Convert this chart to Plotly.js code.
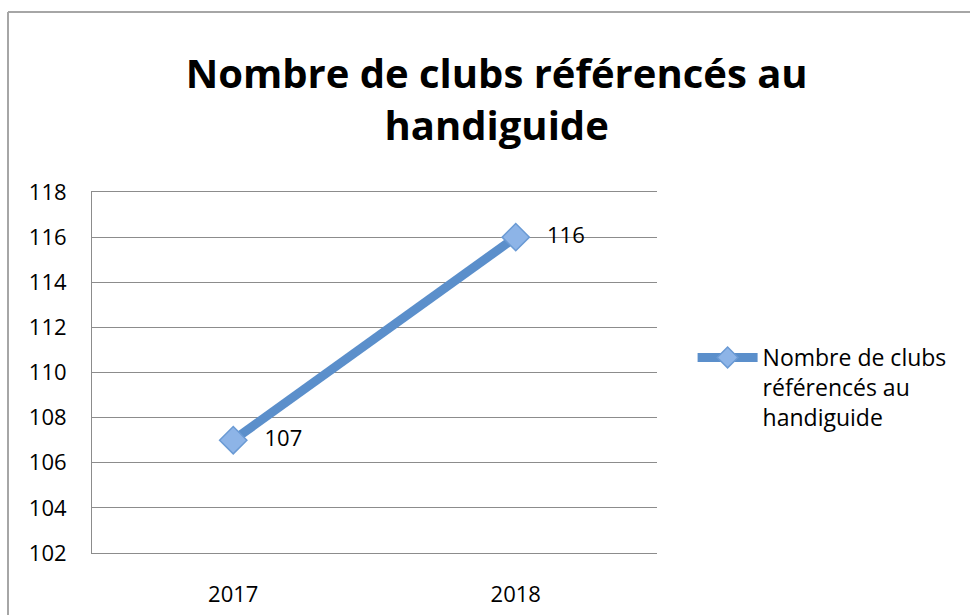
<!DOCTYPE html>
<html>
<head>
<meta charset="utf-8">
<script src="https://cdn.plot.ly/plotly-3.0.1.min.js"></script>
<style>html,body{margin:0;padding:0;background:#fff;}#chart{width:970px;height:615px;}</style>
</head>
<body>
<div id="chart"></div>
<script>
var categories = ['2017', '2018'];
var clubs = [107, 116];
var labels = ['107', '116'];
var seriesName = 'Nombre de clubs<br>référencés au<br>handiguide';
var yTicks = [102, 104, 106, 108, 110, 112, 114, 116, 118];

var trace = {
  x: categories,
  y: clubs,
  text: labels,
  texttemplate: '   %{text}',
  type: 'scatter',
  mode: 'lines+markers+text',
  name: seriesName,
  textposition: 'middle right',
  textfont: {family: 'Open Sans, sans-serif', size: 22, color: '#000'},
  line: {color: '#5B8FCB', width: 9},
  marker: {symbol: 'diamond', size: 21, color: '#8DB4E7', line: {color: '#6A9AD4', width: 1.5}},
  cliponaxis: false
};

var px = function(p){ return (p - 92) / 565; };
var py = function(p){ return (553 - p) / 361; };

var layout = {
  width: 970, height: 615,
  margin: {l: 92, r: 313, t: 192, b: 62},
  paper_bgcolor: '#fff', plot_bgcolor: '#fff',
  font: {family: 'Open Sans, sans-serif', color: '#000'},
  title: {
    text: '<b>Nombre de clubs référencés au<br>handiguide</b>',
    font: {family: 'Open Sans, sans-serif', size: 40, color: '#000'},
    x: 0.512, xref: 'container', xanchor: 'center',
    y: 1 - 88/615, yref: 'container', yanchor: 'top'
  },
  xaxis: {
    type: 'category', range: [-0.5, 1.5],
    showgrid: false, zeroline: false,
    showline: true, mirror: true, linecolor: '#8C8C8C', linewidth: 1,
    tickfont: {size: 22}, ticks: '', ticklabelstandoff: 22
  },
  yaxis: {
    range: [102, 118], tickvals: yTicks, ticktext: yTicks.map(String),
    showgrid: true, gridcolor: '#8C8C8C', gridwidth: 1,
    showline: true, linecolor: '#8C8C8C', linewidth: 1,
    zeroline: false, tickfont: {size: 22}, ticks: '', ticklabelstandoff: 20
  },
  showlegend: true,
  legend: {
    x: 1.063, xanchor: 'left', y: py(336), yanchor: 'top',
    font: {size: 23}, itemwidth: 60, valign: 'top',
    bgcolor: 'rgba(0,0,0,0)'
  },
  shapes: [
    {type: 'line', xref: 'paper', yref: 'paper', x0: px(8), x1: px(8), y0: py(12), y1: py(640), line: {color: '#A6A6A6', width: 2}},
    {type: 'line', xref: 'paper', yref: 'paper', x0: px(8), x1: px(1000), y0: py(12), y1: py(12), line: {color: '#A6A6A6', width: 2}}
  ]
};

Plotly.newPlot('chart', [trace], layout, {displayModeBar: false});
</script>
</body>
</html>
